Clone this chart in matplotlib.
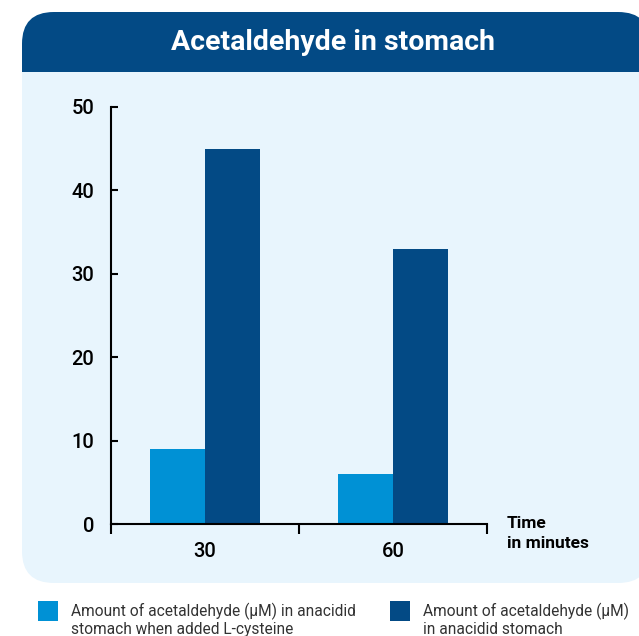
import numpy as np
import matplotlib.pyplot as plt
from matplotlib.patches import FancyBboxPatch, Rectangle

plt.rcParams['font.family'] = ['Roboto', 'DejaVu Sans']

# Data
times = ['30', '60']
with_cysteine = [9, 6]
without_cysteine = [45, 33]
series_labels = ['Amount of acetaldehyde (µM) in anacidid\nstomach when added L-cysteine',
                 'Amount of acetaldehyde (µM)\nin anacidid stomach']
y_ticks = [0, 10, 20, 30, 40, 50]

light = '#0091d5'
dark = '#034a85'
panel_bg = '#e8f5fd'
W, H = 639, 636

fig = plt.figure(figsize=(6.39, 6.36), dpi=100)

# rounded panel with dark header
panel = FancyBboxPatch((22 / W, 1 - 583 / H), (650 - 22) / W, (583 - 12) / H,
                       boxstyle='round,pad=0,rounding_size=0.05',
                       transform=fig.transFigure, facecolor=panel_bg,
                       edgecolor='none', zorder=-2)
fig.add_artist(panel)
header = Rectangle((0, 1 - 72 / H), 1, 72 / H, transform=fig.transFigure,
                   facecolor=dark, edgecolor='none', zorder=-1)
fig.add_artist(header)
header.set_clip_path(panel)

fig.text(333 / W, 1 - 43 / H, 'Acetaldehyde in stomach', color='white',
         fontsize=20.5, fontweight='bold', ha='center', va='center')

ax = fig.add_axes([111 / W, 1 - 524 / H, 376 / W, 417 / H])
ax.set_facecolor('none')

x = np.arange(len(times))
w = 0.29
ax.bar(x - w / 2, with_cysteine, w, color=light)
ax.bar(x + w / 2, without_cysteine, w, color=dark)

ax.set_xlim(-0.5, 1.5)
ax.set_ylim(0, 50)
ax.set_yticks(y_ticks)
ax.set_xticks(x)
ax.set_xticklabels(times)
ax.set_xticks([-0.5, 0.5, 1.5], minor=True)

for s in ['top', 'right']:
    ax.spines[s].set_visible(False)
for s in ['left', 'bottom']:
    ax.spines[s].set_linewidth(1.5)
    ax.spines[s].set_color('black')

ax.tick_params(axis='y', direction='in', length=5, width=1.5, pad=12,
               labelsize=14.5)
ax.tick_params(axis='x', which='major', length=0, pad=13, labelsize=14.5)
ax.tick_params(axis='x', which='minor', direction='out', length=7, width=1.5)
for lbl in ax.get_xticklabels() + ax.get_yticklabels():
    lbl.set_fontweight('medium')

fig.text(507 / W, 1 - 516 / H, 'Time\nin minutes', fontsize=12.5,
         fontweight='bold', ha='left', va='top', linespacing=1.45)

# legend below the panel
for i, (col, lab) in enumerate(zip([light, dark], series_labels)):
    x0 = [38, 390][i]
    fig.add_artist(Rectangle((x0 / W, 1 - 621 / H), 20 / W, 20 / H,
                             transform=fig.transFigure, facecolor=col,
                             edgecolor='none'))
    fig.text((x0 + 33) / W, 1 - 603 / H, lab, fontsize=11.2, color='#333333',
             ha='left', va='top', linespacing=1.12)

fig.savefig('out.png', dpi=100)
